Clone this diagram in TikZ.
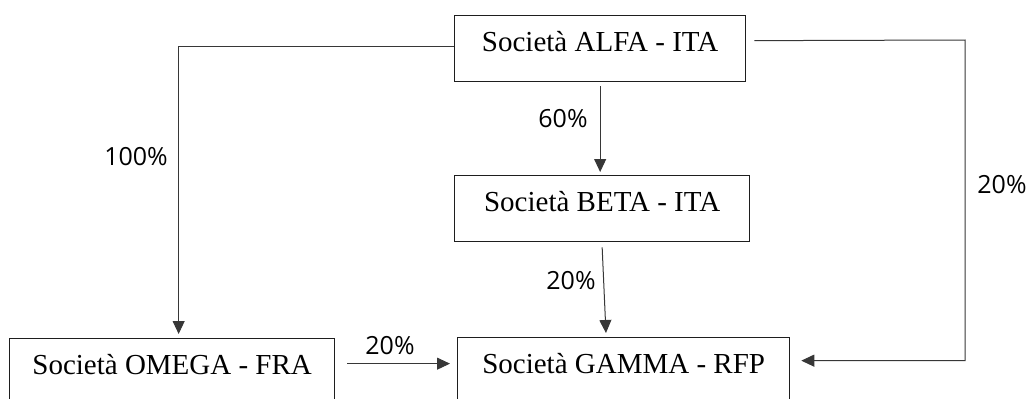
\documentclass[tikz,border=0pt]{standalone}
\usepackage{fontspec}
\setmainfont{Liberation Serif}
\newfontfamily\pctfont{Open Sans}
\usetikzlibrary{arrows.meta,calc}
\definecolor{BoxLine}{RGB}{30,30,30}
\definecolor{LinkLine}{RGB}{55,55,55}

\begin{document}
\begin{tikzpicture}[x=1pt,y=-1pt,
    soc/.style={draw=BoxLine,line width=1.3pt,inner xsep=0pt,inner ysep=0pt,
      text height=36pt,text depth=30pt,anchor=north west,
      font=\fontsize{29}{34}\selectfont},
    link/.style={draw=LinkLine,line width=1pt,-{Triangle[length=13pt,width=12pt]}},
    pct/.style={font=\pctfont\fontsize{25}{30}\selectfont,inner sep=0pt}]
    \useasboundingbox (0,0) rectangle (1029,399);
    \clip (0,0) rectangle (1029,399);
    % societa
    \node[soc,minimum width=291pt] (alfa) at (454,15) {Società ALFA - ITA};
    \node[soc,minimum width=295pt] (beta) at (454,175) {Società BETA - ITA};
    \node[soc,minimum width=332pt] (gamma) at (457,337) {Società GAMMA - RFP};
    \node[soc,minimum width=325pt] (omega) at (9,338) {Società OMEGA - FRA};
    % partecipazioni
    \coordinate (gin) at ([xshift=11pt,yshift=10pt]gamma.east);
    \coordinate (rturn) at (965,40);
    \draw[link,shorten >=4pt] ([yshift=2pt]alfa.west) -| ([xshift=6.5pt]omega.north);
    \draw[link] ([xshift=8pt,yshift=8pt]alfa.east) -- (rturn) |- (gin);
    \draw[link,shorten <=4pt,shorten >=3pt] (alfa.south) -- (alfa.south |- beta.north);
    \draw[link,shorten >=4pt] ([yshift=-5pt]beta.south) -- ([xshift=4pt]beta.south |- gamma.north);
    \draw[link,shorten <=12pt,shorten >=7pt] ([yshift=8pt]omega.east) -- ([yshift=8pt]omega.east -| gamma.west);
    \node[pct] (p100) at (136,157) {100\%};
    \node[pct] (p60) at (563,119) {60\%};
    \node[pct] (p20r) at (1002,185) {20\%};
    \node[pct] (p20b) at (571,281) {20\%};
    \node[pct] (p20o) at (390,346) {20\%};
\end{tikzpicture}
\end{document}
